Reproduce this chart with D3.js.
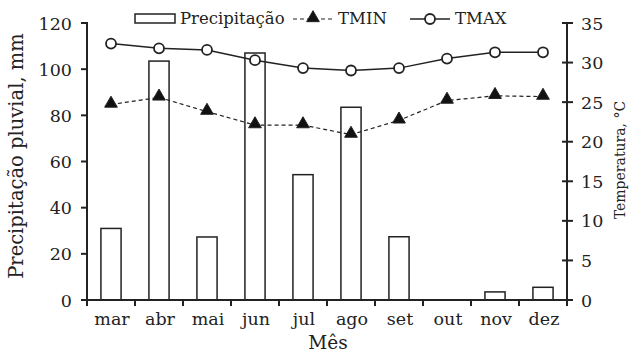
<!DOCTYPE html>
<html><head><meta charset="utf-8">
<script src="https://cdn.jsdelivr.net/npm/d3@7"></script>
<style>body{margin:0;background:#fff}svg{display:block}text{font-family:"DejaVu Serif",serif;fill:#222}</style>
</head><body><svg id="c" width="630" height="354"></svg>
<script>
const months = ["mar","abr","mai","jun","jul","ago","set","out","nov","dez"];
const precip = [31, 103.5, 27.3, 107, 54.3, 83.5, 27.4, 0, 3.5, 5.5];
const tmin = [24.7, 25.6, 23.8, 22.1, 22.1, 20.9, 22.7, 25.2, 25.8, 25.7];
const tmax = [32.4, 31.8, 31.6, 30.3, 29.3, 29.0, 29.3, 30.5, 31.3, 31.3];
const leftTicks = [0,20,40,60,80,100,120];
const rightTicks = [0,5,10,15,20,25,30,35];

const svg = d3.select("#c");
const L = 87, R = 567, T = 23, B = 300;
const x = d3.scaleBand().domain(months).range([L,R]).paddingInner(0.58).paddingOuter(0.29);
const xc = d => x(d) + x.bandwidth()/2;
const yL = d3.scaleLinear().domain([0,120]).range([B,T]);
const yR = d3.scaleLinear().domain([0,35]).range([B,T]);
const ink = "#222";

// bars
svg.append("g").selectAll("rect").data(months).join("rect")
  .attr("x", d=>x(d)).attr("width", x.bandwidth())
  .attr("y", (d,i)=>yL(precip[i])).attr("height",(d,i)=>B-yL(precip[i]))
  .attr("fill","#fff").attr("stroke",ink).attr("stroke-width",1.5);

// lines
const line = s => d3.line().x((d,i)=>xc(months[i])).y(d=>yR(d))(s);
svg.append("path").attr("d",line(tmin)).attr("fill","none").attr("stroke",ink).attr("stroke-width",1.2).attr("stroke-dasharray","4,3");
svg.append("path").attr("d",line(tmax)).attr("fill","none").attr("stroke",ink).attr("stroke-width",1.5);
const tri = d3.symbol().type(d3.symbolTriangle).size(70);
svg.append("g").selectAll("path").data(tmin).join("path")
  .attr("d",tri).attr("transform",(d,i)=>`translate(${xc(months[i])},${yR(d)-1})`)
  .attr("fill","#111").attr("stroke",ink);
svg.append("g").selectAll("circle").data(tmax).join("circle")
  .attr("cx",(d,i)=>xc(months[i])).attr("cy",d=>yR(d)).attr("r",5)
  .attr("fill","#fff").attr("stroke",ink).attr("stroke-width",1.8);

// axes
const gx = svg.append("g").attr("transform",`translate(0,${B})`);
gx.append("line").attr("x1",L-6).attr("x2",R).attr("stroke",ink).attr("stroke-width",2);
const bounds = d3.range(months.length+1).map(i=>L + i*(R-L)/months.length);
gx.selectAll("line.t").data(bounds).join("line").attr("class","t")
  .attr("x1",d=>d).attr("x2",d=>d).attr("y1",0).attr("y2",6).attr("stroke",ink).attr("stroke-width",2);
gx.selectAll("text").data(months).join("text")
  .attr("x",d=>xc(d)+1).attr("y",25).attr("text-anchor","middle").attr("font-size",17.5).text(d=>d);

const gl = svg.append("g");
gl.append("line").attr("x1",L).attr("x2",L).attr("y1",T-1).attr("y2",B).attr("stroke",ink).attr("stroke-width",2);
gl.selectAll("line.t").data(leftTicks).join("line").attr("class","t")
  .attr("x1",L-6).attr("x2",L).attr("y1",d=>yL(d)).attr("y2",d=>yL(d)).attr("stroke",ink).attr("stroke-width",2);
gl.selectAll("text").data(leftTicks).join("text")
  .attr("x",L-15).attr("y",d=>yL(d)+6.5).attr("text-anchor","end").attr("font-size",17.5).text(d=>d);

const gr = svg.append("g");
gr.append("line").attr("x1",R).attr("x2",R).attr("y1",T-1).attr("y2",B+6).attr("stroke",ink).attr("stroke-width",2);
gr.selectAll("line.t").data(rightTicks).join("line").attr("class","t")
  .attr("x1",R-5).attr("x2",R+6).attr("y1",d=>yR(d)).attr("y2",d=>yR(d)).attr("stroke",ink).attr("stroke-width",2);
gr.selectAll("text").data(rightTicks).join("text")
  .attr("x",R+14).attr("y",d=>yR(d)+6.5).attr("text-anchor","start").attr("font-size",17.5).text(d=>d);

// titles
svg.append("text").attr("transform","translate(23,156) rotate(-90)").attr("text-anchor","middle").attr("font-size",19.5).text("Precipitação pluvial, mm");
svg.append("text").attr("transform","translate(625,160) rotate(-90)").attr("text-anchor","middle").attr("font-size",14).text("Temperatura, °C");
svg.append("text").attr("x",328).attr("y",349).attr("text-anchor","middle").attr("font-size",18.5).text("Mês");

// legend
const lg = svg.append("g");
lg.append("rect").attr("x",135).attr("y",14).attr("width",40).attr("height",9).attr("fill","#fff").attr("stroke",ink).attr("stroke-width",1.5);
lg.append("text").attr("x",180).attr("y",24).attr("font-size",16.5).text("Precipitação");
lg.append("line").attr("x1",293).attr("x2",333).attr("y1",19).attr("y2",19).attr("stroke",ink).attr("stroke-width",1.2).attr("stroke-dasharray","4,3");
lg.append("path").attr("d",tri).attr("transform","translate(313,18)").attr("fill","#111").attr("stroke",ink);
lg.append("text").attr("x",338).attr("y",24).attr("font-size",16.5).text("TMIN");
lg.append("line").attr("x1",410).attr("x2",450).attr("y1",19).attr("y2",19).attr("stroke",ink).attr("stroke-width",1.5);
lg.append("circle").attr("cx",430).attr("cy",19).attr("r",5).attr("fill","#fff").attr("stroke",ink).attr("stroke-width",1.8);
lg.append("text").attr("x",455).attr("y",24).attr("font-size",16.5).text("TMAX");
</script></body></html>
